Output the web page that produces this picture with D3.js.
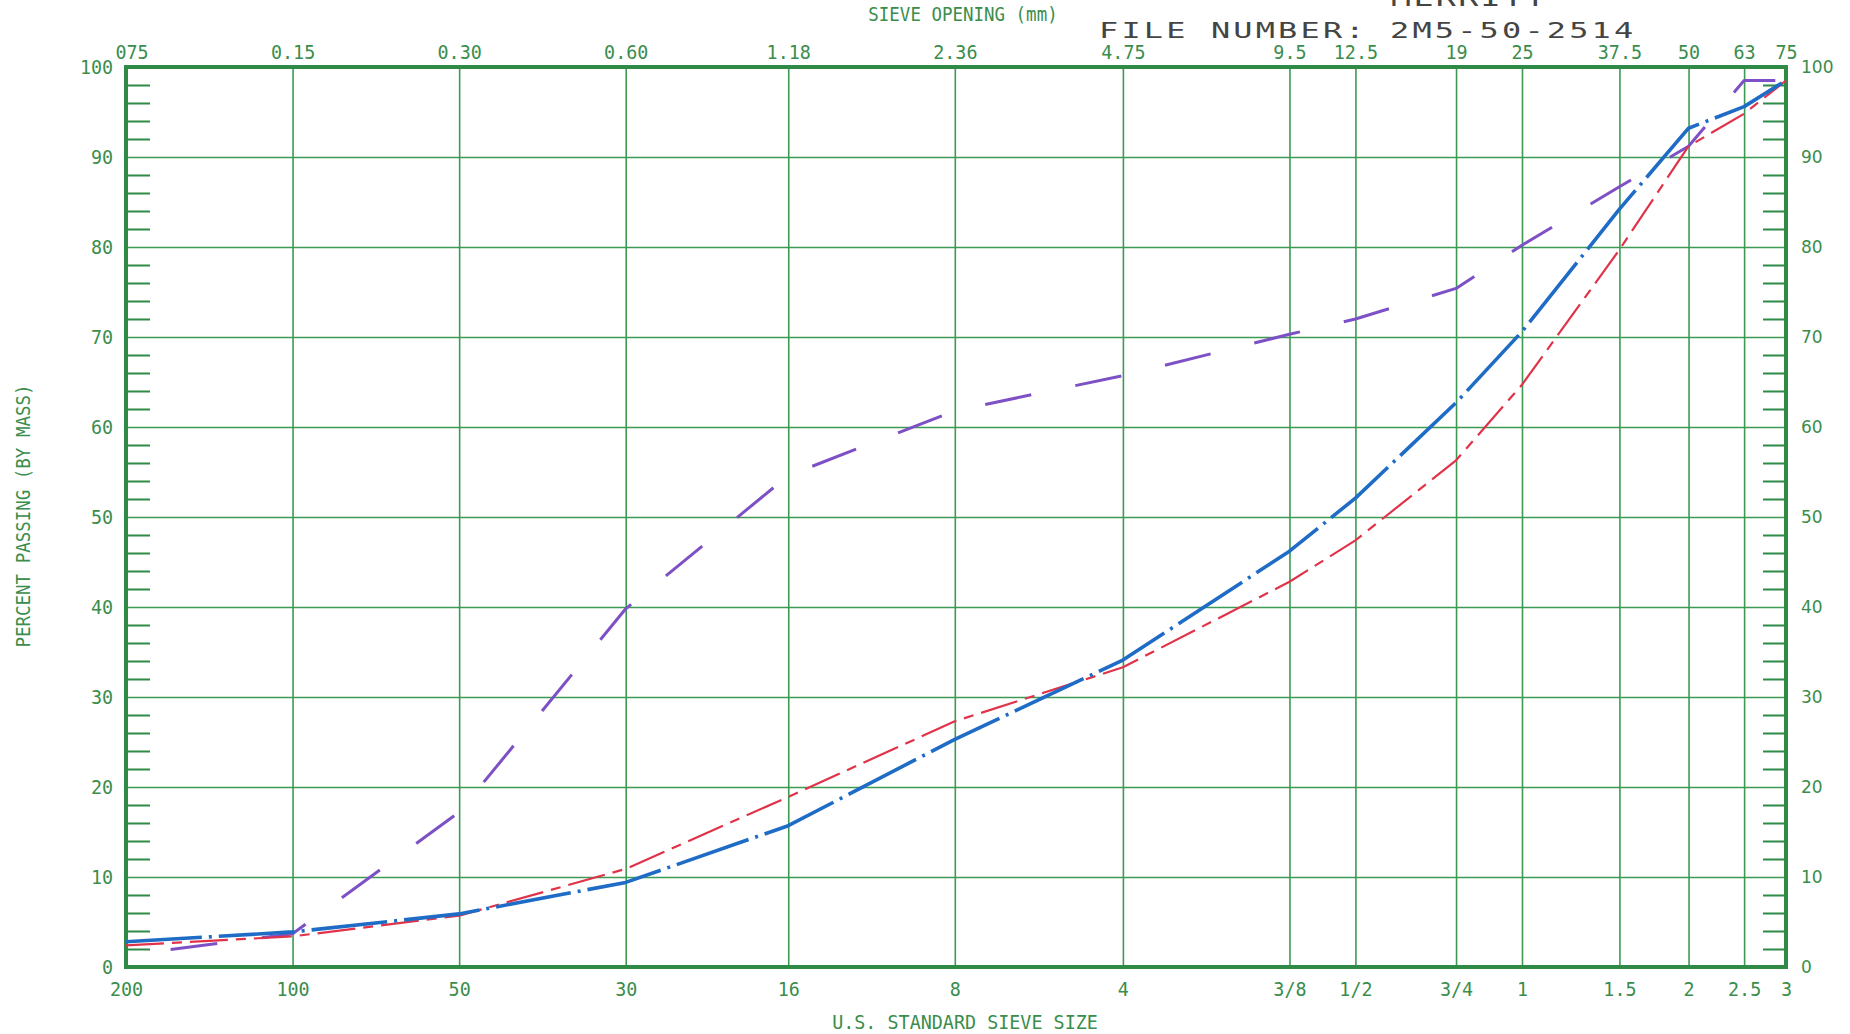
<!DOCTYPE html>
<html>
<head>
<meta charset="utf-8">
<script src="https://cdn.jsdelivr.net/npm/d3@7"></script>
<style>
  body { margin: 0; background: #fff; }
  svg { display: block; }
</style>
</head>
<body>
<div id="chart"></div>
<script>
'use strict';

// sieve openings (mm) with the labels printed on both axes
var sieveMm = [0.075, 0.15, 0.30, 0.60, 1.18, 2.36, 4.75, 9.5, 12.5, 19, 25, 37.5, 50, 63, 75];
var mmLabels = ['075', '0.15', '0.30', '0.60', '1.18', '2.36', '4.75', '9.5', '12.5', '19', '25', '37.5', '50', '63', '75'];
var usLabels = ['200', '100', '50', '30', '16', '8', '4', '3/8', '1/2', '3/4', '1', '1.5', '2', '2.5', '3'];

// percent passing
var bluePassing = [2.8, 3.9, 5.9, 9.4, 15.7, 25.3, 34.1, 46.2, 52.1, 62.7, 70.6, 84.2, 93.2, 95.6, 98.5];
var redPassing = [2.4, 3.4, 5.7, 10.9, 18.9, 27.3, 33.3, 42.8, 47.4, 56.3, 64.7, 79.7, 91.2, 94.8, 98.5];
var purplePassing = [1.3, 3.7, 17.2, 39.8, 54.6, 61.8, 65.7, 70.3, 72.0, 75.4, 80.2, 86.7, 91.2, 98.5, 98.5];

var percentTicks = [0, 10, 20, 30, 40, 50, 60, 70, 80, 90, 100];
var minorTicks = d3.range(2, 100, 2).filter(function(d) { return d % 10 !== 0; });

var W = 1850, H = 1034;
var plotLeft = 126, plotTop = 67, plotRight = 1786, plotBottom = 967;
var width = plotRight - plotLeft, height = plotBottom - plotTop;

var green = '#2f8a46',
    gridGreen = '#3c9a52',
    textGreen = '#3a8d4c',
    labelFont = '"DejaVu Sans Mono", monospace';

var svg = d3.select('#chart').append('svg')
    .attr('width', W)
    .attr('height', H);

var x = d3.scaleLog().domain([0.075, 75]).range([plotLeft, plotRight]);
var y = d3.scaleLinear().domain([0, 100]).range([plotBottom, plotTop]);

// grid
svg.append('g')
    .attr('transform', 'translate(0,' + plotBottom + ')')
    .call(d3.axisBottom(x).tickValues(sieveMm.slice(1, -1)).tickSize(-height).tickFormat(''))
    .call(function(g) { g.select('.domain').remove(); })
    .selectAll('line').attr('stroke', gridGreen).attr('stroke-width', 1.6);

svg.append('g')
    .attr('transform', 'translate(' + plotLeft + ',0)')
    .call(d3.axisLeft(y).tickValues(percentTicks.slice(1, -1)).tickSize(-width).tickFormat(''))
    .call(function(g) { g.select('.domain').remove(); })
    .selectAll('line').attr('stroke', gridGreen).attr('stroke-width', 1.6);

// minor ticks every 2 %, inside both side axes
svg.append('g')
    .attr('transform', 'translate(' + plotLeft + ',0)')
    .call(d3.axisLeft(y).tickValues(minorTicks).tickSize(-24).tickFormat(''))
    .call(function(g) { g.select('.domain').remove(); })
    .selectAll('line').attr('stroke', green).attr('stroke-width', 2);

svg.append('g')
    .attr('transform', 'translate(' + plotRight + ',0)')
    .call(d3.axisRight(y).tickValues(minorTicks).tickSize(-23).tickFormat(''))
    .call(function(g) { g.select('.domain').remove(); })
    .selectAll('line').attr('stroke', green).attr('stroke-width', 2);

// frame
svg.append('rect')
    .attr('x', plotLeft).attr('y', plotTop)
    .attr('width', width).attr('height', height)
    .attr('fill', 'none')
    .attr('stroke', green)
    .attr('stroke-width', 4);

// tick labels
function styleLabels(g) {
  g.select('.domain').remove();
  g.selectAll('line').remove();
  g.selectAll('text')
      .attr('fill', textGreen)
      .style('font-family', labelFont)
      .style('font-size', '20px');
}

svg.append('g')
    .attr('transform', 'translate(0,' + plotBottom + ')')
    .call(d3.axisBottom(x).tickValues(sieveMm).tickSize(0).tickPadding(15)
      .tickFormat(function(d, i) { return usLabels[i]; }))
    .call(styleLabels)
    .selectAll('text').attr('transform', 'scale(0.92,1)');

svg.append('g')
    .attr('transform', 'translate(0,' + plotTop + ')')
    .call(d3.axisTop(x).tickValues(sieveMm).tickSize(0).tickPadding(8)
      .tickFormat(function(d, i) { return mmLabels[i]; }))
    .call(styleLabels)
    .selectAll('text')
      .attr('dx', function(d, i) { return i === 0 ? 6 : 0; })
      .attr('transform', 'scale(0.92,1)');

svg.append('g')
    .attr('transform', 'translate(' + plotLeft + ',0)')
    .call(d3.axisLeft(y).tickValues(percentTicks).tickSize(0).tickPadding(14))
    .call(styleLabels)
    .selectAll('text')
      .attr('transform', 'scale(0.92,1)');

svg.append('g')
    .attr('transform', 'translate(' + plotRight + ',0)')
    .call(d3.axisRight(y).tickValues(percentTicks).tickSize(0).tickPadding(15))
    .call(styleLabels)
    .selectAll('text')
      .style('font-family', '"DejaVu Sans", sans-serif')
      .style('font-size', '17px');

// axis titles
svg.append('text')
    .attr('transform', 'translate(963,21) scale(0.92,1)')
    .attr('text-anchor', 'middle')
    .attr('fill', textGreen)
    .style('font-family', labelFont)
    .style('font-size', '19px')
    .text('SIEVE OPENING (mm)');

svg.append('text')
    .attr('transform', 'translate(965,1029) scale(0.92,1)')
    .attr('text-anchor', 'middle')
    .attr('fill', textGreen)
    .style('font-family', labelFont)
    .style('font-size', '20px')
    .text('U.S. STANDARD SIEVE SIZE');

svg.append('text')
    .attr('transform', 'translate(30,516) rotate(-90) scale(0.92,1)')
    .attr('text-anchor', 'middle')
    .attr('fill', textGreen)
    .style('font-family', labelFont)
    .style('font-size', '19px')
    .text('PERCENT PASSING (BY MASS)');

// header stamped over the top axis (the name line is clipped by the page edge)
svg.append('text')
    .attr('transform', 'translate(1391,6) scale(1.45,1)')
    .attr('fill', '#444')
    .style('font-family', labelFont)
    .style('font-size', '23px')
    .style('letter-spacing', '1.6px')
    .text('MERRITT');

svg.append('text')
    .attr('transform', 'translate(1099,38) scale(1.45,1)')
    .attr('fill', '#444')
    .style('font-family', labelFont)
    .style('font-size', '22px')
    .style('letter-spacing', '2.2px')
    .text('FILE NUMBER: 2M5-50-2514');

// gradation curves
var series = [
  {name: 'purple', values: purplePassing, color: '#7d50c6', width: 3, dash: '47,45', offset: 47},
  {name: 'red', values: redPassing, color: '#e0334a', width: 2.2, dash: '38,8,10,8', offset: 0},
  {name: 'blue', values: bluePassing, color: '#1f6cc6', width: 3.6, dash: '76,7,3,7', offset: 0}
];

var line = d3.line()
    .x(function(d) { return x(d.mm); })
    .y(function(d) { return y(d.pct); });

svg.append('g').selectAll('path')
    .data(series)
  .enter().append('path')
    .attr('class', function(d) { return 'curve ' + d.name; })
    .attr('fill', 'none')
    .attr('stroke', function(d) { return d.color; })
    .attr('stroke-width', function(d) { return d.width; })
    .attr('stroke-dasharray', function(d) { return d.dash; })
    .attr('stroke-dashoffset', function(d) { return d.offset; })
    .attr('stroke-linejoin', 'round')
    .attr('d', function(d) {
      return line(d.values.map(function(v, i) { return {mm: sieveMm[i], pct: v}; }));
    });
</script>
</body>
</html>
